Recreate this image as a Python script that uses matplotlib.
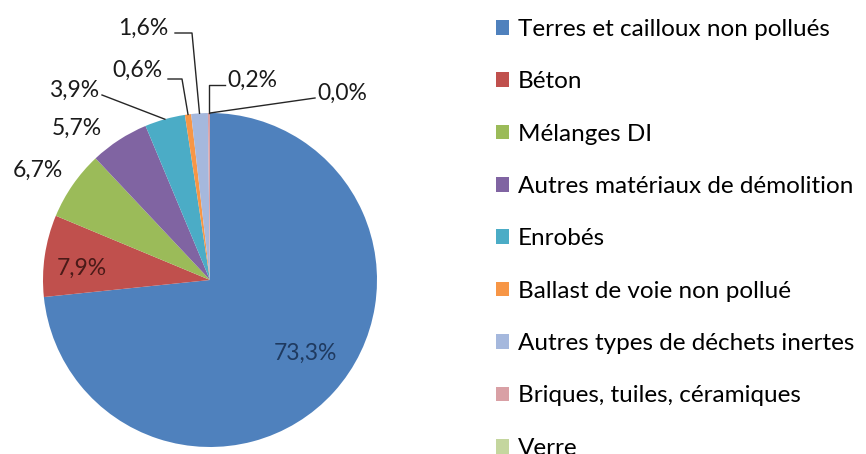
import numpy as np
import matplotlib.pyplot as plt
from matplotlib.patches import Patch

# Données
categories = ["Terres et cailloux non pollués", "Béton", "Mélanges DI",
              "Autres matériaux de démolition", "Enrobés",
              "Ballast de voie non pollué", "Autres types de déchets inertes",
              "Briques, tuiles, céramiques", "Verre"]
valeurs = [73.3, 7.9, 6.7, 5.7, 3.9, 0.6, 1.6, 0.2, 0.0]
couleurs = ["#4F81BD", "#C0504D", "#9BBB59", "#8064A2", "#4BACC6",
            "#F79646", "#A5B8DD", "#D9A0A5", "#C4D69E"]

W, H = 866, 454
plt.rcParams["font.family"] = ["Lato", "DejaVu Sans"]

fig = plt.figure(figsize=(W / 100, H / 100), dpi=100)
ax = fig.add_axes([0, 0, 1, 1])

def px(x, y):
    # coordonnées image (y vers le bas) -> coordonnées du graphique
    return x, H - y

cx, cy = px(210, 280)
r = 167
ax.pie(valeurs, colors=couleurs, startangle=90, counterclock=False,
       center=(cx, cy), radius=r, frame=True,
       wedgeprops=dict(linewidth=0))
ax.set_xlim(0, W)
ax.set_ylim(0, H)
ax.set_aspect("equal")
ax.axis("off")

# angle du milieu de chaque part (en degrés, sens trigo)
cum = np.cumsum([0] + valeurs)
total = sum(valeurs)
mid = [90 - 360 * (cum[i] + valeurs[i] / 2) / total for i in range(len(valeurs))]

def bord(i, f=1.0):
    a = np.radians(mid[i])
    return cx + f * r * np.cos(a), cy + f * r * np.sin(a)

lab = [f"{v:.1f}".replace(".", ",") + "%" for v in valeurs]
fs = 16.5

# étiquettes intérieures
ax.text(*px(305, 353), lab[0], ha="center", va="center", fontsize=fs, color="#1F3A60")
ax.text(*px(82, 268), lab[1], ha="center", va="center", fontsize=fs, color="#4A1A18")

# étiquettes extérieures
pos_ext = {2: (38, 170), 3: (77, 128), 4: (74, 90), 5: (137, 70),
           6: (143, 28), 7: (252, 80), 8: (342, 93)}
for i, (x, y) in pos_ext.items():
    ax.text(*px(x, y), lab[i], ha="center", va="center", fontsize=fs, color="#1A1A1A")

# lignes de repère
lc = dict(color="#262626", lw=1)
ex, ey = bord(4)
ax.plot([102, ex], [H - 95, ey], **lc)
ex, ey = bord(5)
ax.plot([168, 182, ex], [H - 79, H - 79, ey], **lc)
ex, ey = bord(6)
ax.plot([175, 192, ex], [H - 33, H - 33, ey], **lc)
ex, ey = bord(7)
ax.plot([225, ex, ex], [H - 85, H - 85, ey], **lc)
ex, ey = bord(8)
ax.plot([315, ex], [H - 98, ey], **lc)

# légende
poignees = [Patch(facecolor=c, edgecolor="none") for c in couleurs]
ax.legend(poignees, categories, loc="upper left",
          bbox_to_anchor=(496 / W, 1 - 19 / H), bbox_transform=fig.transFigure,
          frameon=False, fontsize=17.5, handlelength=0.55, handleheight=0.55,
          handletextpad=0.35, labelspacing=1.29, borderaxespad=0, borderpad=0)

fig.savefig("out.png", dpi=100)
